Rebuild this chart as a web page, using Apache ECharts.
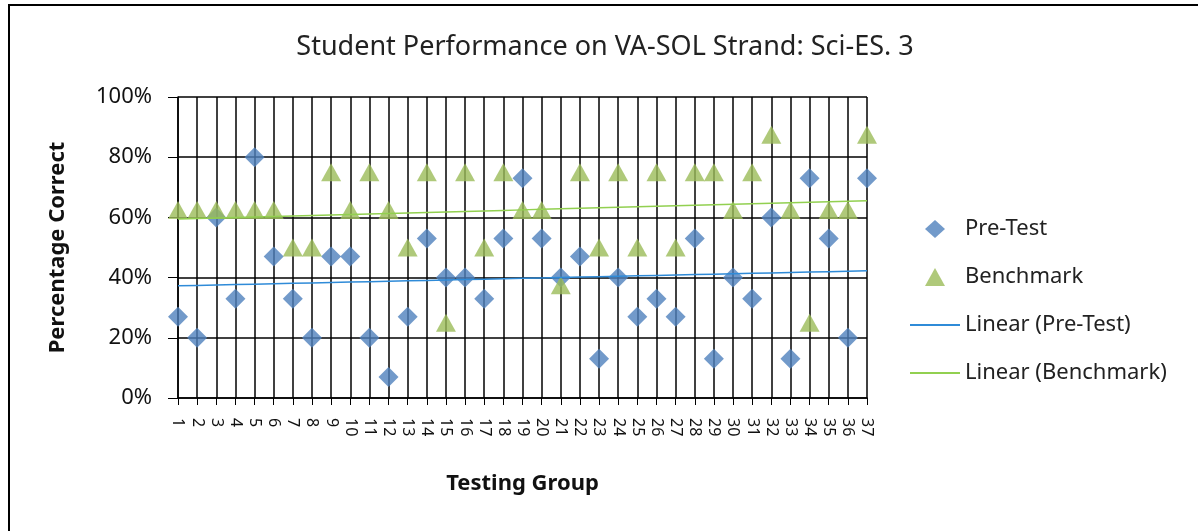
<!DOCTYPE html>
<html>
<head>
<meta charset="utf-8">
<script src="https://cdn.jsdelivr.net/npm/echarts@6/dist/echarts.min.js"></script>
<style>
    html, body { margin: 0; padding: 0; background: #fff; }
    #frame { position: absolute; left: 8px; top: 4px; width: 1200px; height: 540px; border: 2px solid #000; box-sizing: border-box; }
    #myChart { position: absolute; left: 0; top: 0; width: 1198px; height: 531px; }
</style>
</head>
<body>
<div id="frame"></div>
<div id="myChart"></div>
<script>
// testing groups 1..37
const groups = [];
for (let i = 1; i <= 37; i++) groups.push(String(i));

// percentage correct
const preTest = [27, 20, 60, 33, 80, 47, 33, 20, 47, 47, 20, 7, 27, 53, 40, 40, 33, 53, 73, 53,
    40, 47, 13, 40, 27, 33, 27, 53, 13, 40, 33, 60, 13, 73, 53, 20, 73];
const benchmark = [62.5, 62.5, 62.5, 62.5, 62.5, 62.5, 50, 50, 75, 62.5, 75, 62.5, 50, 75, 25, 75, 50, 75, 62.5, 62.5,
    37.5, 75, 50, 75, 50, 75, 50, 75, 75, 62.5, 75, 87.5, 62.5, 25, 62.5, 62.5, 87.5];

const yTicks = [0, 20, 40, 60, 80, 100];

// least squares trend, the way Excel's "Linear" trendline does it
function linearTrend (vals) {
    let n = vals.length, sx = 0, sy = 0, sxy = 0, sxx = 0;
    vals.forEach((v, i) => {
        let x = i + 1;
        sx += x; sy += v; sxy += x * v; sxx += x * x;
    });
    let slope = (n * sxy - sx * sy) / (n * sxx - sx * sx);
    let icpt = (sy - slope * sx) / n;
    return vals.map((v, i) => +(icpt + slope * (i + 1)).toFixed(3));
}

const font = 'Noto Sans, sans-serif';
let myChart = echarts.init(document.getElementById('myChart'));
myChart.setOption({
    animation: false,
    backgroundColor: 'transparent',
    title: {
        text: 'Student Performance on VA-SOL Strand: Sci-ES. 3',
        left: 605,
        top: 34,
        padding: 0,
        textAlign: 'center',
        textStyle: { fontFamily: font, fontSize: 27, fontWeight: 'normal', color: '#222' }
    },
    grid: { left: 178, right: 331, top: 97, bottom: 133 },
    legend: [{
        left: 925,
        top: 217,
        padding: 0,
        orient: 'vertical',
        itemWidth: 20,
        itemHeight: 18,
        itemGap: 24,
        textStyle: { fontFamily: font, fontSize: 22, color: '#222', lineHeight: 24, padding: [0, 0, 0, 15] },
        data: [
            { name: 'Pre-Test', icon: 'diamond' },
            { name: 'Benchmark', icon: 'triangle' }
        ]
    }, {
        left: 910,
        top: 313,
        padding: 0,
        orient: 'vertical',
        itemWidth: 50,
        itemHeight: 2,
        itemGap: 24,
        textStyle: { fontFamily: font, fontSize: 22, color: '#222', lineHeight: 24 },
        data: [
            { name: 'Linear (Pre-Test)', icon: 'rect' },
            { name: 'Linear (Benchmark)', icon: 'rect' }
        ]
    }],
    xAxis: {
        type: 'category',
        data: groups,
        boundaryGap: false,
        name: 'Testing Group',
        nameLocation: 'middle',
        nameGap: 75,
        nameTextStyle: { fontFamily: font, fontSize: 22, fontWeight: 'bold', color: '#111' },
        axisLine: { lineStyle: { color: '#000', width: 1.5 } },
        axisTick: { show: true, length: 7, interval: 0, lineStyle: { color: '#000' } },
        axisLabel: {
            interval: 0,
            rotate: -90,
            margin: 20,
            fontFamily: font,
            fontSize: 16,
            color: '#111'
        },
        splitLine: { show: true, interval: 0, lineStyle: { color: '#000', width: 1.5 } }
    },
    yAxis: {
        type: 'value',
        min: yTicks[0],
        max: yTicks[yTicks.length - 1],
        interval: 20,
        name: 'Percentage Correct',
        nameLocation: 'middle',
        nameGap: 109,
        nameTextStyle: { fontFamily: font, fontSize: 22, fontWeight: 'bold', color: '#111' },
        axisLine: { show: true, lineStyle: { color: '#000', width: 1.5 } },
        axisTick: { show: true, length: 10, lineStyle: { color: '#000' } },
        axisLabel: { formatter: '{value}%', margin: 26, fontFamily: font, fontSize: 22, color: '#111' },
        splitLine: { show: true, lineStyle: { color: '#000', width: 1.5 } }
    },
    series: [{
        name: 'Pre-Test',
        type: 'scatter',
        symbol: 'diamond',
        symbolSize: 20,
        itemStyle: { color: '#4F81BD' },
        data: preTest,
        z: 3
    }, {
        name: 'Benchmark',
        type: 'scatter',
        symbol: 'triangle',
        symbolSize: [20, 18],
        itemStyle: { color: '#9BBB59' },
        data: benchmark,
        z: 3
    }, {
        name: 'Linear (Pre-Test)',
        type: 'line',
        showSymbol: false,
        symbol: 'none',
        lineStyle: { color: '#2F8BD8', width: 1.5 },
        itemStyle: { color: '#2F8BD8' },
        data: linearTrend(preTest),
        z: 4
    }, {
        name: 'Linear (Benchmark)',
        type: 'line',
        showSymbol: false,
        symbol: 'none',
        lineStyle: { color: '#92D050', width: 1.5 },
        itemStyle: { color: '#92D050' },
        data: linearTrend(benchmark),
        z: 4
    }]
});
</script>
</body>
</html>
